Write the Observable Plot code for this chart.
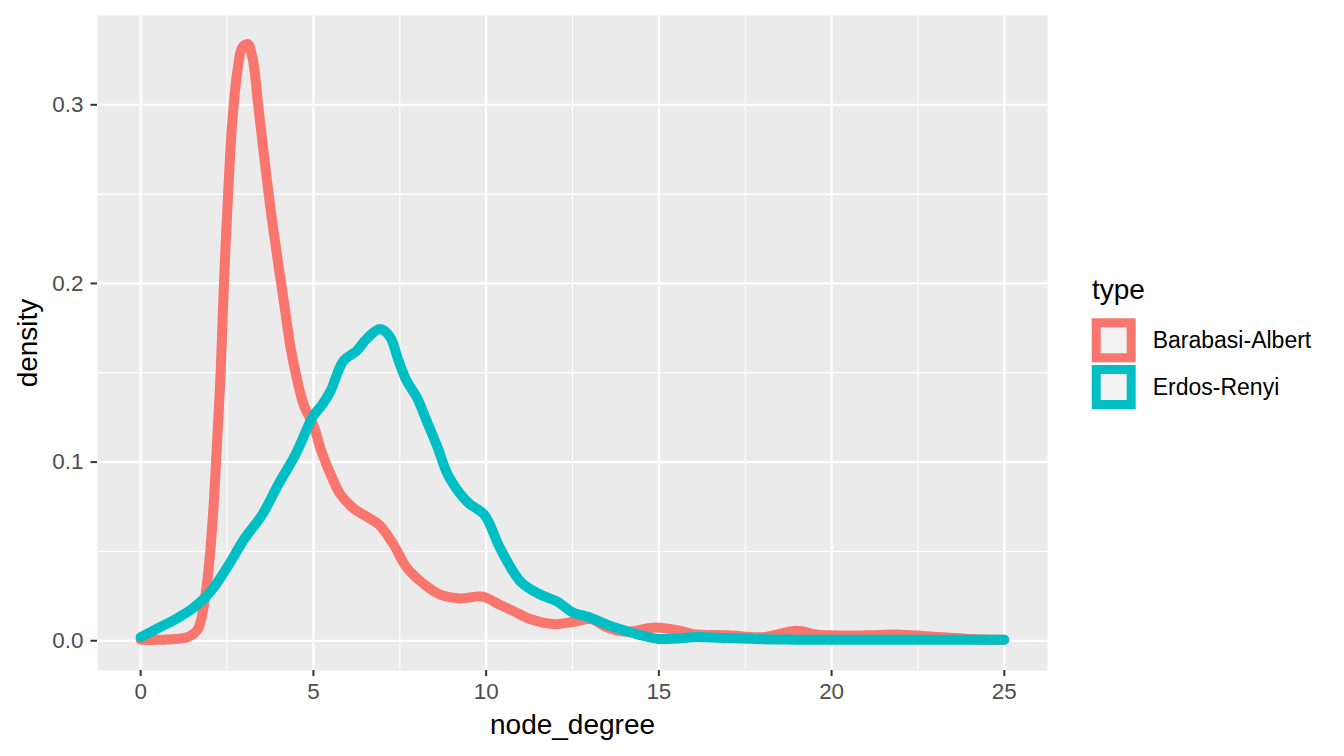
<!DOCTYPE html>
<html><head><meta charset="utf-8">
<script src="https://cdn.jsdelivr.net/npm/d3@7"></script>
<script src="https://cdn.jsdelivr.net/npm/@observablehq/plot@0.6"></script>
<style>
body{margin:0;background:#fff;}
#wrap{position:relative;width:1344px;height:756px;font-family:"Liberation Sans",Arial,Helvetica,sans-serif;}
#wrap svg{display:block;}
#legend{position:absolute;left:0;top:0;pointer-events:none;}
</style></head><body><div id="wrap"></div>
<script>
const types = ["Barabasi-Albert", "Erdos-Renyi"];
const colors = ["#F8766D", "#00BFC4"];

const baX = [0, 0.5, 1.0, 1.35, 1.64, 1.83, 1.98, 2.1, 2.2, 2.32, 2.41, 2.53, 2.65, 2.8, 2.94, 3.1, 3.25, 3.4, 3.55, 3.76, 3.96, 4.15, 4.34, 4.53, 4.72, 5.01, 5.25, 5.54, 5.78, 6.17, 6.55, 6.9, 7.3, 7.7, 8.29, 8.67, 9.25, 9.9, 10.4, 10.8, 11.3, 11.94, 12.5, 13.05, 13.5, 14.06, 14.9, 15.6, 16, 17, 18, 19, 19.5, 20, 21, 22, 23, 24, 25];
const baY = [0.0005, 0.0005, 0.001, 0.002, 0.006, 0.02, 0.043, 0.0726, 0.107, 0.1525, 0.2, 0.25, 0.29, 0.319, 0.332, 0.334, 0.325, 0.30, 0.275, 0.2415, 0.214, 0.189, 0.164, 0.146, 0.132, 0.12, 0.105, 0.0913, 0.082, 0.074, 0.0694, 0.065, 0.0545, 0.041, 0.0303, 0.0258, 0.0237, 0.0247, 0.0201, 0.0165, 0.012, 0.0093, 0.0105, 0.012, 0.0075, 0.005, 0.0074, 0.0056, 0.0037, 0.003, 0.002, 0.0056, 0.0037, 0.003, 0.003, 0.0034, 0.0022, 0.001, 0.0005];

const erX = [0, 0.5, 1, 1.5, 2, 2.5, 3, 3.5, 4, 4.5, 5, 5.25, 5.5, 5.87, 6.25, 6.54, 6.93, 7.22, 7.46, 7.7, 8.0, 8.28, 8.6, 8.9, 9.45, 9.95, 10.4, 11, 11.55, 12.05, 12.5, 13, 13.5, 14, 14.5, 15, 15.5, 16, 17, 18, 19, 20, 21, 22, 23, 24, 25];
const erY = [0.002, 0.007, 0.012, 0.018, 0.027, 0.041, 0.057, 0.070, 0.088, 0.105, 0.126, 0.132, 0.140, 0.1567, 0.1623, 0.169, 0.1745, 0.170, 0.157, 0.1455, 0.136, 0.123, 0.108, 0.0926, 0.0778, 0.0704, 0.052, 0.033, 0.026, 0.022, 0.016, 0.013, 0.009, 0.0058, 0.003, 0.001, 0.0012, 0.002, 0.0015, 0.0008, 0.0006, 0.0005, 0.0005, 0.0005, 0.0005, 0.0005, 0.0005];

const xTicks = [0, 5, 10, 15, 20, 25];
const xMinor = [2.5, 7.5, 12.5, 17.5, 22.5];
const yTicks = [0, 0.1, 0.2, 0.3];
const yMinor = [0.05, 0.15, 0.25];

const xTitle = "node_degree";
const yTitle = "density";
const legendTitle = "type";

const rows = [
  ...baX.map((x, i) => ({type: types[0], x, y: baY[i]})),
  ...erX.map((x, i) => ({type: types[1], x, y: erY[i]}))
];

const font = '"Liberation Sans", Arial, Helvetica, sans-serif';

const chart = Plot.plot({
  width: 1344,
  height: 756,
  marginLeft: 97,
  marginRight: 297,
  marginTop: 15,
  marginBottom: 86,
  style: {fontFamily: font, background: "white", overflow: "visible"},
  x: {domain: [-1.25, 26.25]},
  y: {domain: [-0.0166667, 0.35]},
  color: {domain: types, range: colors},
  marks: [
    Plot.frame({fill: "#EBEBEB", stroke: "none"}),
    Plot.gridX(xMinor, {stroke: "white", strokeOpacity: 1, strokeWidth: 1.1}),
    Plot.gridY(yMinor, {stroke: "white", strokeOpacity: 1, strokeWidth: 1.1}),
    Plot.gridX(xTicks, {stroke: "white", strokeOpacity: 1, strokeWidth: 2.2}),
    Plot.gridY(yTicks, {stroke: "white", strokeOpacity: 1, strokeWidth: 2.2}),
    Plot.line(rows, {x: "x", y: "y", z: "type", stroke: "type", strokeWidth: 10, curve: "catmull-rom", strokeLinecap: "round", strokeLinejoin: "round"}),
    Plot.axisX(xTicks, {tickSize: 6, tickPadding: 7, fontSize: 22.4, color: "#4D4D4D", stroke: "#333333", strokeWidth: 2, label: null, tickFormat: d => String(d)}),
    Plot.axisY(yTicks, {tickSize: 6.5, tickPadding: 7.5, fontSize: 22.4, color: "#4D4D4D", stroke: "#333333", strokeWidth: 2, label: null, tickFormat: d => d.toFixed(1)}),
    Plot.text([xTitle], {text: d => d, frameAnchor: "bottom", lineAnchor: "bottom", textAnchor: "middle", dy: 63, fontSize: 28, fill: "black"}),
    Plot.text([yTitle], {text: d => d, frameAnchor: "left", lineAnchor: "bottom", textAnchor: "middle", rotate: -90, dx: -60.3, fontSize: 28, fill: "black"})
  ]
});

const wrap = document.getElementById("wrap");
wrap.appendChild(chart);

// legend (ggplot-style)
const leg = d3.select(wrap).append("svg")
  .attr("id", "legend")
  .attr("width", 1344).attr("height", 756)
  .style("font-family", font);
leg.append("text").attr("x", 1092).attr("y", 299).attr("font-size", 28).attr("fill", "black").text(legendTitle);
const keys = leg.selectAll("g.key").data(types).join("g").attr("class", "key")
  .attr("transform", (d, i) => `translate(1091.7,${318.3 + i * 46.7})`);
keys.append("rect").attr("x", 4.5).attr("y", 4.5).attr("width", 35).attr("height", 35)
  .attr("fill", "#F2F2F2").attr("stroke", (d, i) => colors[i]).attr("stroke-width", 9);
keys.append("text").attr("x", 61).attr("y", 22).attr("dy", "0.35em").attr("font-size", 23).attr("fill", "black").text(d => d);
</script></body></html>
